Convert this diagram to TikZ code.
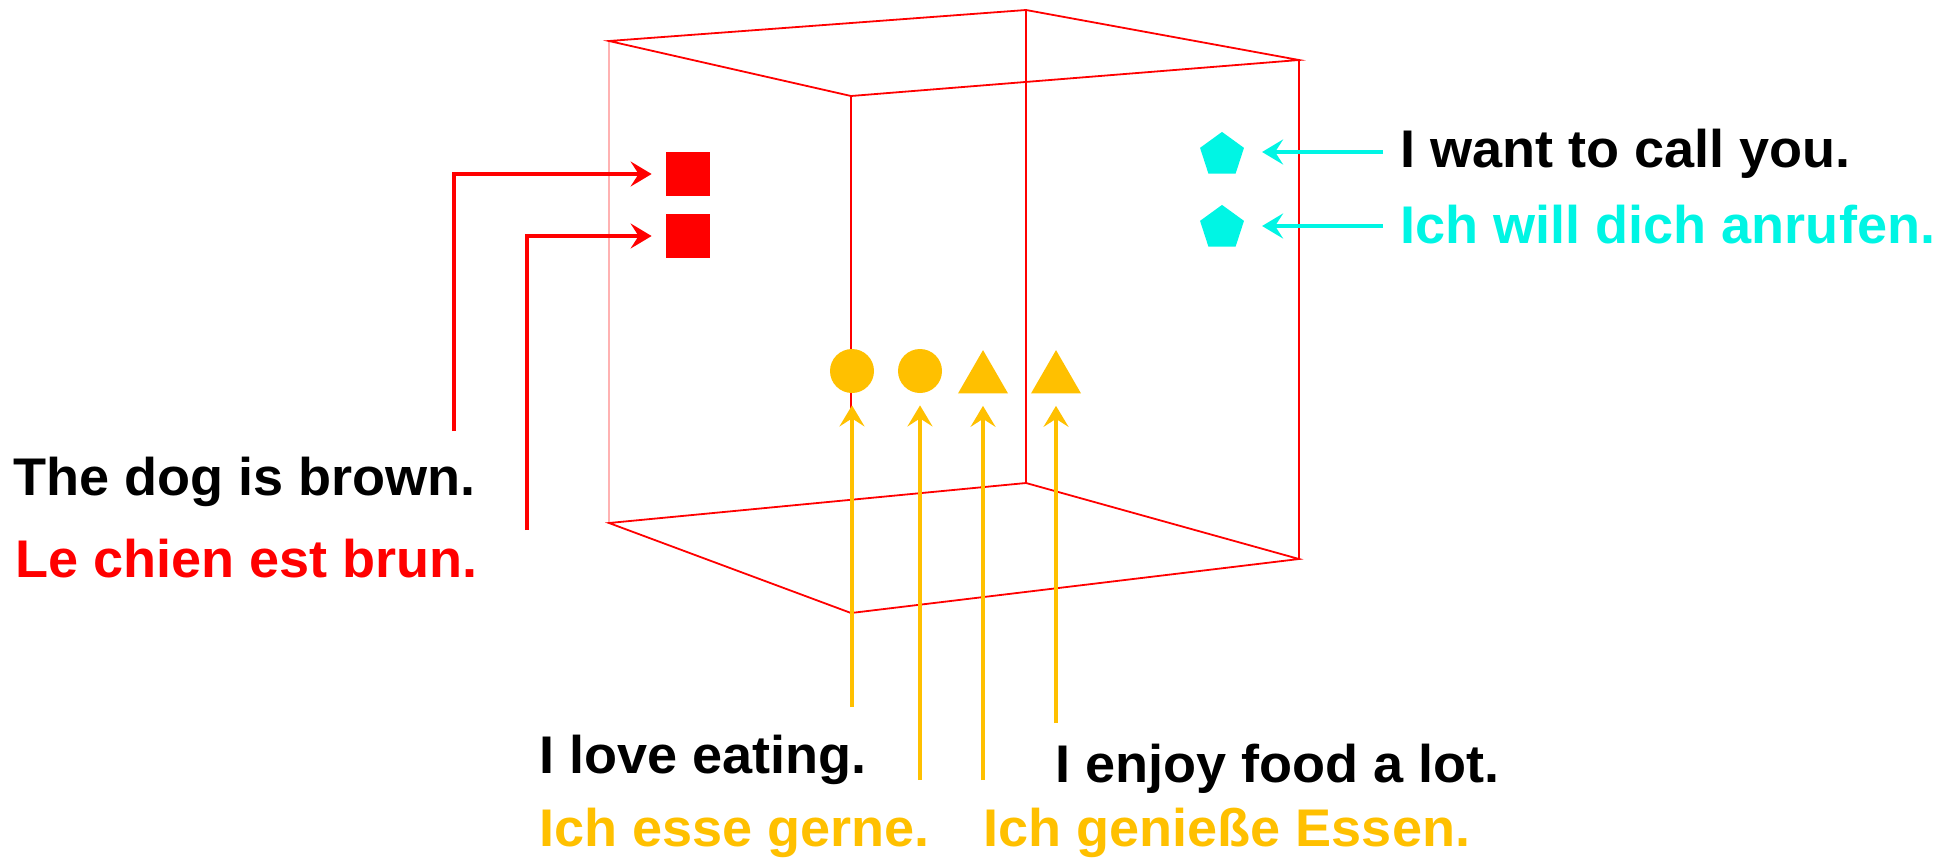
\documentclass[tikz,border=0pt]{standalone}
\usepackage{fontspec}
\setmainfont{Liberation Sans}[FakeStretch=1.02]
\usetikzlibrary{shapes.geometric,arrows.meta}
\definecolor{cred}{RGB}{255,0,0}
\definecolor{cyel}{RGB}{255,192,0}
\definecolor{ccyan}{RGB}{0,245,228}
\begin{document}
\begin{tikzpicture}[x=0.5pt,y=-0.5pt,
  edge/.style={draw=cred,line width=0.9pt},
  conn/.style={line width=1.7pt,-{Stealth[length=10.5pt,width=12.5pt,inset=4pt]}},
  lbl/.style={anchor=base west,inner sep=0pt,font=\fontsize{26.5pt}{30pt}\selectfont\bfseries},
  sq/.style={fill=cred,minimum size=22pt,inner sep=0pt},
  dot/.style={circle,fill=cyel,minimum size=22pt,inner sep=0pt},
  tri/.style={regular polygon,regular polygon sides=3,fill=cyel,minimum size=28.9pt,inner sep=0pt},
  pent/.style={regular polygon,regular polygon sides=5,fill=ccyan,minimum size=23.1pt,inner sep=0pt}]
\useasboundingbox (0,0) rectangle (1957,857);
% cube
\coordinate (btl) at (609,41);
\coordinate (ftl) at (851,96);
\coordinate (btr) at (1026,10);
\coordinate (ftr) at (1299,60);
\coordinate (bbl) at (609,523);
\coordinate (fbl) at (851,613);
\coordinate (bbr) at (1026,483);
\coordinate (fbr) at (1299,559);
\draw[edge,draw opacity=0.3] (btl) -- (bbl);
\draw[edge] (btl) -- (btr) -- (ftr) -- (ftl) -- cycle;
\draw[edge] (bbl) -- (bbr) -- (fbr) -- (fbl) -- cycle;
\draw[edge] (btr) -- (bbr);
\draw[edge] (ftr) -- (fbr);
\draw[edge] (ftl) -- (fbl);
% shapes
\node[sq] (s1) at (688,174) {};
\node[sq] (s2) at (688,236) {};
\node[dot] (c1) at (852,371) {};
\node[dot] (c2) at (920,371) {};
\node[tri] (t1) at (983,379) {};
\node[tri] (t2) at (1056,379) {};
\node[pent] (p1) at (1222,155) {};
\node[pent] (p2) at (1222,228) {};
% labels
\node[lbl] (l1) at (13,495) {The dog is brown.};
\node[lbl,text=cred] (l2) at (15,577) {Le chien est brun.};
\node[lbl] (l3) at (539,773) {I love eating.};
\node[lbl,text=cyel] (l4) at (539,846) {Ich esse gerne.};
\node[lbl] (l5) at (1055,782) {I enjoy food a lot.};
\node[lbl,text=cyel] (l6) at (983,846) {Ich genieße Essen.};
\node[lbl] (l7) at (1400,167) {I want to call you.};
\node[lbl,text=ccyan] (l8) at (1400,243) {Ich will dich anrufen.};
% connector start points
\coordinate (r1) at (454,431);
\coordinate (r2) at (527,530);
\coordinate (y1) at (852,707);
\coordinate (y2) at (920,780);
\coordinate (y3) at (983,780);
\coordinate (y4) at (1056,723);
\coordinate (b1) at (1383,152);
\coordinate (b2) at (1383,226);
% connectors
\draw[conn,cred,shorten >=7pt] (r1) |- (s1.west);
\draw[conn,cred,shorten >=7pt] (r2) |- (s2.west);
\draw[conn,cyel,shorten >=6pt] (y1) -- (c1.south);
\draw[conn,cyel,shorten >=6pt] (y2) -- (c2.south);
\draw[conn,cyel,shorten >=6pt] (y3) -- (t1.south);
\draw[conn,cyel,shorten >=6pt] (y4) -- (t2.south);
\draw[conn,ccyan,line width=2pt,shorten >=10pt] (b1) -- (p1.east |- b1);
\draw[conn,ccyan,line width=2pt,shorten >=10pt] (b2) -- (p2.east |- b2);
\end{tikzpicture}
\end{document}
